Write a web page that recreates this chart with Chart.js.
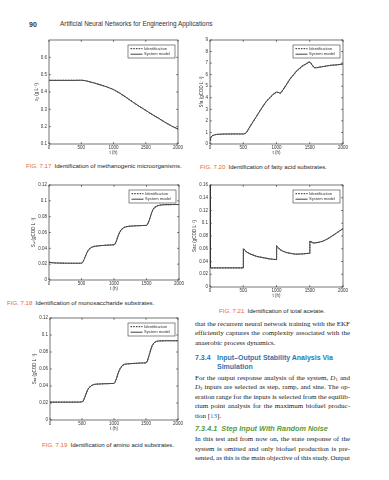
<!DOCTYPE html>
<html>
<head>
<meta charset="utf-8">
<script src="https://cdn.jsdelivr.net/npm/chart.js@4.4.1/dist/chart.umd.min.js"></script>
<style>
  html, body { margin: 0; padding: 0; background: #fff; }
  body { width: 389px; height: 480px; position: relative; overflow: hidden;
         font-family: "Liberation Sans", Arial, sans-serif; color: #1e1e1e; }
  canvas { position: absolute; }
  .t { position: absolute; white-space: nowrap; line-height: 1; transform: translateY(-50%); }
  .hdr { font-size: 6.4px; color: #333; }
  .cap { font-size: 6.1px; }
  .fig { color: #e2683a; }
  .txt { font-family: "Liberation Serif", "Times New Roman", serif; font-size: 7px; color: #222; }
  .h1 { font-weight: bold; font-size: 7px; color: #2b78b0; }
  .h2 { font-weight: bold; font-style: italic; font-size: 7.3px; color: #5b9a35; }
  .ref { color: #2b78b0; }
  sub { font-size: 0.7em; line-height: 0; vertical-align: -0.25em; }
</style>
</head>
<body>
<div class="t hdr" style="left:29px;top:24px;font-weight:bold;font-size:7px">90</div>
<div class="t hdr" style="left:60px;top:24px">Artificial Neural Networks for Engineering Applications</div>

<div class="t cap" style="left:26px;top:166px"><span class="fig">FIG. 7.17</span>&ensp;Identification of methanogenic microorganisms.</div>
<div class="t cap" style="left:200px;top:167px"><span class="fig">FIG. 7.20</span>&ensp;Identification of fatty acid substrates.</div>
<div class="t cap" style="left:7px;top:303px"><span class="fig">FIG. 7.18</span>&ensp;Identification of monosaccharide substrates.</div>
<div class="t cap" style="left:219px;top:311px"><span class="fig">FIG. 7.21</span>&ensp;Identification of total acetate.</div>
<div class="t cap" style="left:42px;top:445px"><span class="fig">FIG. 7.19</span>&ensp;Identification of amino acid substrates.</div>

<div class="t txt" style="left:195px;top:323.5px" data-w="155">that the recurrent neural network training with the EKF</div>
<div class="t txt" style="left:195px;top:333px" data-w="155">efficiently captures the complexity associated with the</div>
<div class="t txt" style="left:195px;top:342.5px">anaerobic process dynamics.</div>
<div class="t h1" style="left:195px;top:356.5px">7.3.4</div>
<div class="t h1" style="left:217px;top:356.5px">Input–Output Stability Analysis Via</div>
<div class="t h1" style="left:217px;top:366px">Simulation</div>
<div class="t txt" style="left:195px;top:377.5px" data-w="155">For the output response analysis of the system, <i>D</i><sub>1</sub> and</div>
<div class="t txt" style="left:195px;top:387px" data-w="155"><i>D</i><sub>2</sub> inputs are selected as step, ramp, and sine. The op-</div>
<div class="t txt" style="left:195px;top:396.5px" data-w="155">eration range for the inputs is selected from the equilib-</div>
<div class="t txt" style="left:195px;top:406px" data-w="155">rium point analysis for the maximum biofuel produc-</div>
<div class="t txt" style="left:195px;top:415.5px">tion [<span class="ref">13</span>].</div>
<div class="t h2" style="left:195px;top:429px">7.3.4.1&nbsp; Step Input With Random Noise</div>
<div class="t txt" style="left:195px;top:439px" data-w="155">In this test and from now on, the state response of the</div>
<div class="t txt" style="left:195px;top:448.5px" data-w="155">system is omitted and only biofuel production is pre-</div>
<div class="t txt" style="left:195px;top:458px" data-w="155">sented, as this is the main objective of this study. Output</div>

<script>
const seriesLabels = ["Identification", "System model"];
const timeTicks = [0, 500, 1000, 1500, 2000];

// FIG. 7.17 methanogenic microorganisms
const methTime = [0, 100, 200, 300, 400, 500, 550, 600, 700, 800, 900, 1000, 1100, 1200, 1300, 1400, 1500, 1600, 1700, 1800, 1900, 2000];
const methConc = [0.467, 0.467, 0.467, 0.467, 0.467, 0.468, 0.466, 0.462, 0.452, 0.441, 0.429, 0.414, 0.393, 0.368, 0.342, 0.317, 0.294, 0.27, 0.248, 0.225, 0.204, 0.186];
const methTicks = [0.1, 0.2, 0.3, 0.4, 0.5, 0.6];

// FIG. 7.20 fatty acid substrates
const fattyTime = [0, 10, 30, 60, 100, 200, 300, 400, 500, 530, 560, 600, 650, 700, 750, 800, 850, 900, 950, 1000, 1030, 1060, 1100, 1150, 1200, 1250, 1300, 1350, 1400, 1450, 1490, 1510, 1540, 1570, 1600, 1650, 1700, 1800, 1900, 2000];
const fattyConc = [0.3, 0.55, 0.7, 0.78, 0.83, 0.86, 0.87, 0.87, 0.87, 0.9, 1.1, 1.5, 1.95, 2.4, 2.85, 3.3, 3.7, 4.0, 4.3, 4.5, 4.45, 4.4, 4.7, 5.15, 5.6, 5.95, 6.3, 6.55, 6.8, 6.95, 7.1, 7.05, 6.8, 6.6, 6.6, 6.65, 6.7, 6.8, 6.85, 6.92];
const fattyTicks = [0, 1, 2, 3, 4, 5, 6, 7, 8, 9];

// FIG. 7.18 monosaccharide substrates
const sugarTime = [0, 50, 100, 200, 300, 400, 500, 520, 540, 560, 580, 600, 630, 660, 700, 750, 800, 900, 1000, 1020, 1040, 1060, 1080, 1100, 1130, 1160, 1200, 1250, 1300, 1400, 1500, 1520, 1540, 1560, 1580, 1600, 1630, 1660, 1700, 1750, 1800, 1900, 2000];
const sugarConc = [0.0225, 0.0218, 0.0215, 0.0213, 0.0212, 0.0212, 0.0212, 0.0225, 0.026, 0.03, 0.034, 0.037, 0.04, 0.0415, 0.0425, 0.043, 0.0435, 0.044, 0.0445, 0.046, 0.05, 0.055, 0.059, 0.062, 0.065, 0.0665, 0.0675, 0.068, 0.0683, 0.0687, 0.069, 0.071, 0.075, 0.08, 0.085, 0.089, 0.092, 0.0935, 0.0945, 0.095, 0.0952, 0.0953, 0.0953];
const sugarTicks = [0, 0.02, 0.04, 0.06, 0.08, 0.1, 0.12];

// FIG. 7.21 total acetate
const acetTime = [0, 2, 10, 100, 200, 300, 400, 500, 502, 520, 550, 600, 650, 700, 800, 900, 1000, 1002, 1020, 1050, 1100, 1150, 1200, 1250, 1300, 1400, 1500, 1502, 1520, 1550, 1600, 1650, 1700, 1750, 1800, 1850, 1900, 1950, 2000];
const acetConc = [0.16, 0.031, 0.03, 0.03, 0.03, 0.03, 0.03, 0.03, 0.06, 0.058, 0.055, 0.052, 0.05, 0.048, 0.046, 0.044, 0.043, 0.064, 0.062, 0.059, 0.056, 0.054, 0.053, 0.052, 0.0515, 0.052, 0.053, 0.072, 0.071, 0.069, 0.0695, 0.0705, 0.072, 0.0745, 0.0775, 0.081, 0.0845, 0.088, 0.0915];
const acetTicks = [0, 0.02, 0.04, 0.06, 0.08, 0.1, 0.12, 0.14, 0.16];

// FIG. 7.19 amino acid substrates
const aminoTime = [0, 100, 200, 300, 400, 500, 520, 540, 560, 580, 600, 630, 660, 700, 750, 800, 900, 1000, 1020, 1040, 1060, 1080, 1100, 1130, 1160, 1200, 1300, 1400, 1500, 1520, 1540, 1560, 1580, 1600, 1630, 1660, 1700, 1800, 1900, 2000];
const aminoConc = [0.021, 0.021, 0.021, 0.021, 0.021, 0.0212, 0.0225, 0.026, 0.03, 0.034, 0.037, 0.0395, 0.041, 0.042, 0.0423, 0.0425, 0.0428, 0.043, 0.045, 0.049, 0.054, 0.058, 0.061, 0.064, 0.0655, 0.066, 0.0665, 0.067, 0.0672, 0.069, 0.074, 0.079, 0.084, 0.088, 0.091, 0.0925, 0.093, 0.0932, 0.0932, 0.0932];
const aminoTicks = [0, 0.02, 0.04, 0.06, 0.08, 0.1, 0.12];

const tickFont = { family: "Liberation Sans, Arial, sans-serif", size: 4.5 };
const ink = "#333";

// MATLAB-style box with inward ticks, plus the boxed legend in the top right corner
const frame = {
  id: "frame",
  afterDraw(chart) {
    const { ctx, chartArea: a, scales } = chart;
    ctx.save();
    ctx.strokeStyle = "#3a3a3a";
    ctx.lineWidth = 0.7;
    ctx.strokeRect(a.left, a.top, a.width, a.height);
    ctx.beginPath();
    for (const tick of scales.x.ticks) {
      const px = scales.x.getPixelForValue(tick.value);
      ctx.moveTo(px, a.bottom); ctx.lineTo(px, a.bottom - 1.8);
      ctx.moveTo(px, a.top); ctx.lineTo(px, a.top + 1.8);
    }
    for (const tick of scales.y.ticks) {
      const py = scales.y.getPixelForValue(tick.value);
      ctx.moveTo(a.left, py); ctx.lineTo(a.left + 1.8, py);
      ctx.moveTo(a.right, py); ctx.lineTo(a.right - 1.8, py);
    }
    ctx.stroke();

    const bw = 47, bh = 13;
    const bx = a.right - 3 - bw, by = a.top + 5;
    ctx.fillStyle = "#fff";
    ctx.fillRect(bx, by, bw, bh);
    ctx.lineWidth = 0.6;
    ctx.strokeRect(bx, by, bw, bh);
    ctx.font = "4.1px Liberation Sans, Arial, sans-serif";
    ctx.textBaseline = "middle";
    chart.data.datasets.forEach((ds, i) => {
      const yy = by + 3.6 + i * 5.6;
      ctx.setLineDash(ds.borderDash || []);
      ctx.strokeStyle = ds.borderColor;
      ctx.lineWidth = ds.borderWidth;
      ctx.beginPath();
      ctx.moveTo(bx + 2.5, yy);
      ctx.lineTo(bx + 14.5, yy);
      ctx.stroke();
      ctx.setLineDash([]);
      ctx.fillStyle = ink;
      ctx.fillText(ds.label, bx + 16, yy);
    });
    ctx.restore();
  },
};

function plot(box, time, values, axis) {
  const yw = box.gap + 2.7;
  const xh = 11.5;
  const left = Math.floor(box.l - yw - 2);
  const top = box.t - 5;
  const width = Math.ceil(box.r - left + 8);
  const height = Math.ceil(box.b - top + xh + 3);
  const canvas = document.createElement("canvas");
  canvas.width = width;
  canvas.height = height;
  canvas.style.left = `${left}px`;
  canvas.style.top = `${top}px`;
  document.body.appendChild(canvas);

  const points = time.map((t, i) => ({ x: t, y: values[i] }));
  new Chart(canvas, {
    type: "line",
    data: {
      datasets: [
        { label: seriesLabels[0], data: points, borderColor: "#4d4d4d", borderDash: [1.6, 1.1], borderWidth: 1.1, pointRadius: 0 },
        { label: seriesLabels[1], data: points, borderColor: "#111", borderWidth: 0.8, pointRadius: 0 },
      ],
    },
    options: {
      responsive: false,
      animation: false,
      events: [],
      layout: {
        padding: {
          left: box.l - yw - left,
          top: 5,
          right: width - (box.r - left),
          bottom: height - (box.b - top) - xh,
        },
      },
      plugins: { legend: { display: false }, tooltip: { enabled: false } },
      scales: {
        x: {
          type: "linear",
          min: 0,
          max: 2000,
          afterBuildTicks: (s) => { s.ticks = timeTicks.map((v) => ({ value: v })); },
          afterFit: (s) => { s.height = xh; },
          grid: { display: false, drawTicks: false },
          border: { display: false },
          ticks: {
            font: tickFont, color: ink, padding: 1.5, maxRotation: 0, autoSkip: false,
            callback: (v) => String(v),
          },
          title: { display: true, text: "t (h)", font: tickFont, color: ink, padding: 0 },
        },
        y: {
          type: "linear",
          min: axis.min,
          max: axis.max,
          afterBuildTicks: (s) => { s.ticks = axis.ticks.map((v) => ({ value: v })); },
          afterFit: (s) => { s.width = yw; },
          grid: { display: false, drawTicks: false },
          border: { display: false },
          ticks: {
            font: tickFont, color: ink, padding: 2, autoSkip: false,
            callback: (v) => String(+v.toFixed(3)),
          },
          title: { display: true, text: axis.title, font: tickFont, color: ink, padding: 0 },
        },
      },
    },
    plugins: [frame],
  });
}

plot({ l: 49, t: 40, r: 178, b: 144, gap: 12 }, methTime, methConc,
  { min: 0.1, max: 0.7, ticks: methTicks, title: "x₂ (g L⁻¹)" });
plot({ l: 210, t: 40, r: 343, b: 144, gap: 8.5 }, fattyTime, fattyConc,
  { min: 0, max: 9, ticks: fattyTicks, title: "Sfa (gCOD L⁻¹)" });
plot({ l: 49, t: 185, r: 179, b: 280, gap: 15.5 }, sugarTime, sugarConc,
  { min: 0, max: 0.12, ticks: sugarTicks, title: "Sₛᵤ (gCOD L⁻¹)" });
plot({ l: 210, t: 185, r: 343, b: 287, gap: 15 }, acetTime, acetConc,
  { min: 0, max: 0.16, ticks: acetTicks, title: "Sac (gCOD L⁻¹)" });
plot({ l: 50, t: 318, r: 178, b: 420, gap: 15.5 }, aminoTime, aminoConc,
  { min: 0, max: 0.12, ticks: aminoTicks, title: "Sₐₐ (gCOD L⁻¹)" });

// stretch the justified lines of body text to the column width
document.querySelectorAll("[data-w]").forEach((el) => {
  const target = +el.dataset.w;
  const natural = el.getBoundingClientRect().width;
  const gaps = (el.textContent.match(/ /g) || []).length;
  if (gaps) el.style.wordSpacing = `${(target - natural) / gaps}px`;
});
</script>
</body>
</html>
